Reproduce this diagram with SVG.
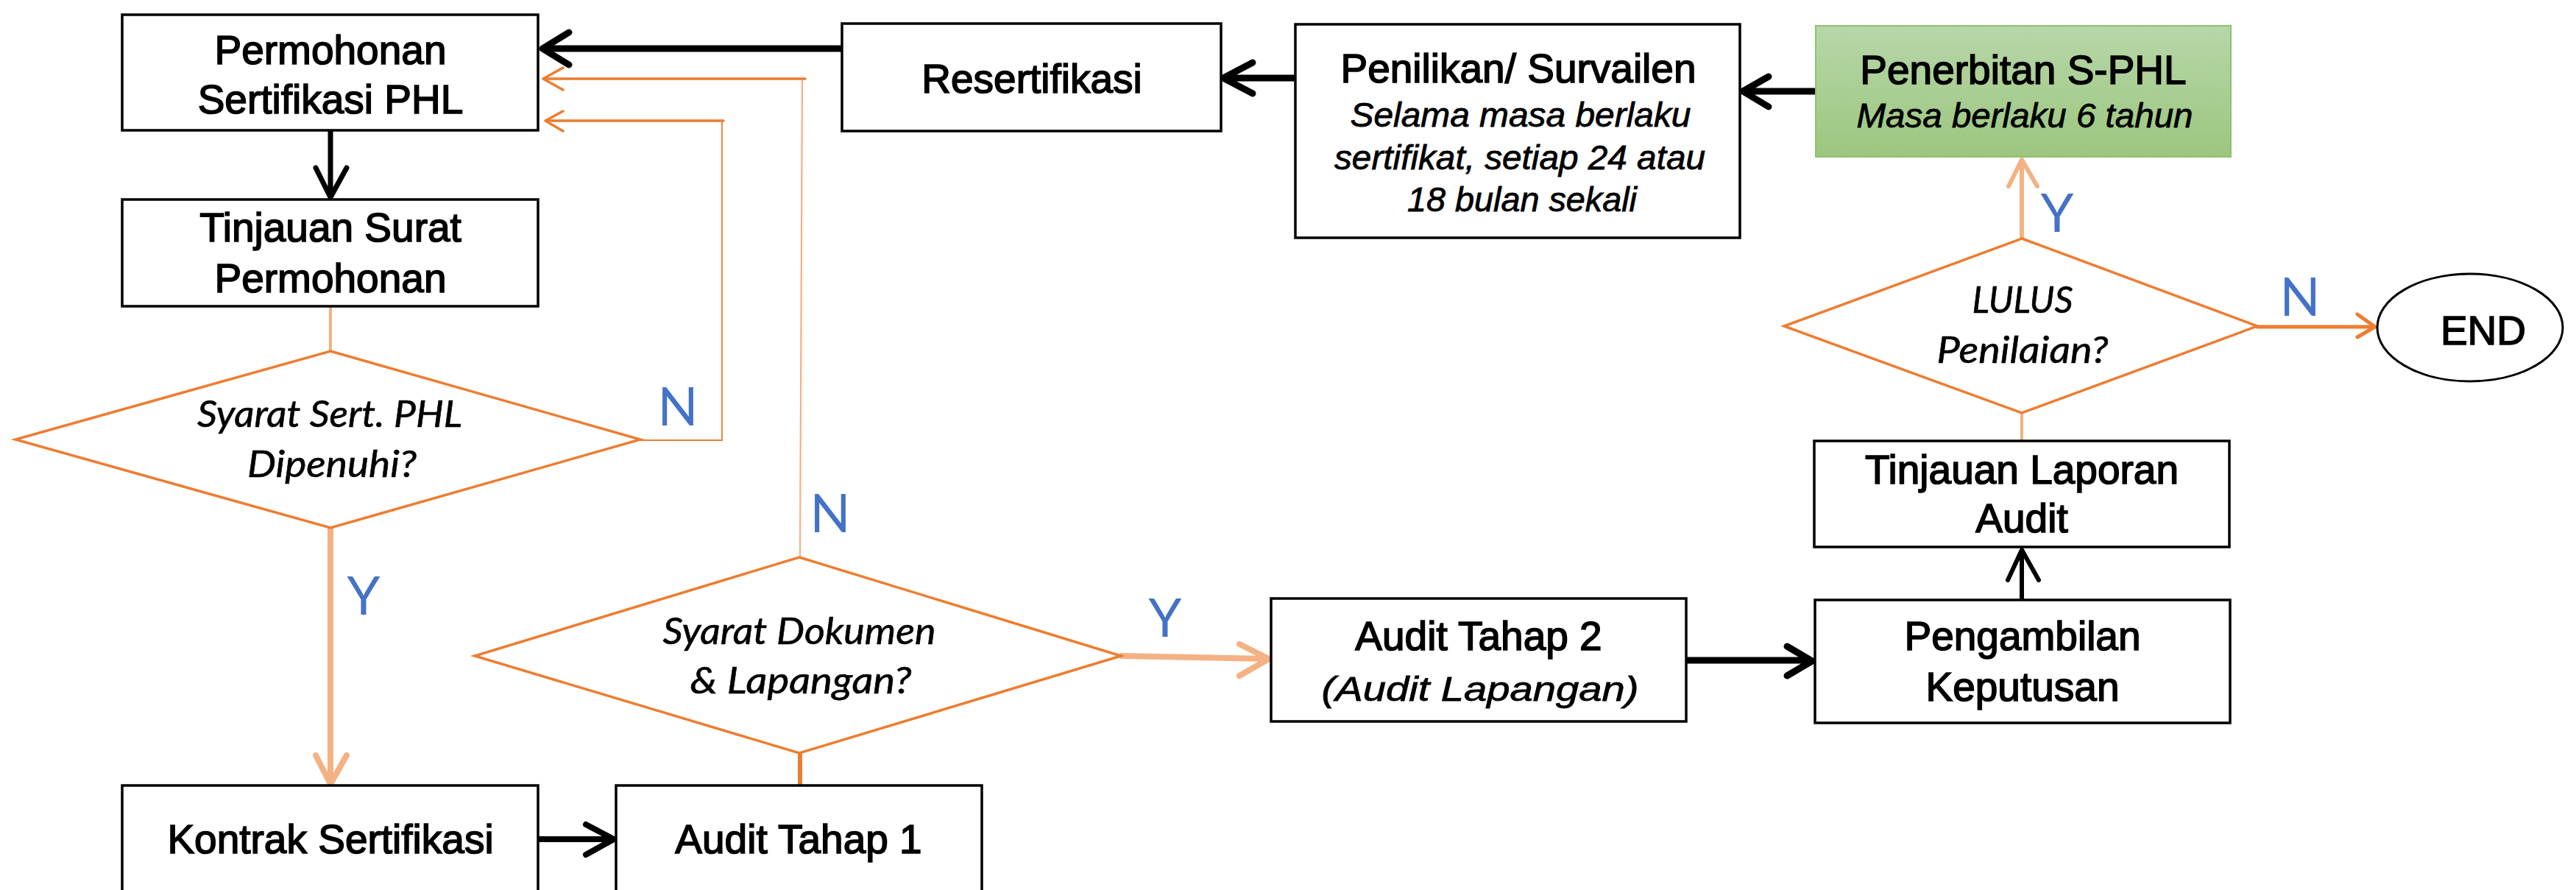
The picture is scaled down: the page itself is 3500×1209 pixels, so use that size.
<svg xmlns="http://www.w3.org/2000/svg" width="3500" height="1209" viewBox="0 0 3500 1209">
<defs>
<linearGradient id="green" x1="0" y1="0" x2="0" y2="1">
<stop offset="0" stop-color="#B7D7A9"/>
<stop offset="1" stop-color="#9CC67E"/>
</linearGradient>
<style>
.box{fill:#fff;stroke:#000;stroke-width:3.5}
.t{font-family:"Liberation Sans",Arial,sans-serif;font-size:55px;text-anchor:middle;fill:#000;stroke:#000;stroke-width:1.6}
.ti{font-family:"Liberation Sans",Arial,sans-serif;font-style:italic;font-size:47px;text-anchor:middle;fill:#000;stroke:#000;stroke-width:0.8}
.dia{fill:#fff;stroke:#ED7D31;stroke-width:3.5;stroke-linejoin:miter}
.dt{font-family:Lato,"Open Sans",sans-serif;font-style:italic;font-size:50px;text-anchor:middle;fill:#000;stroke:#000;stroke-width:0.6}
.yn{font-family:Lato,"Open Sans",sans-serif;font-size:72px;fill:#4472C4;text-anchor:middle}
.blk{fill:none;stroke:#000;stroke-linecap:round;stroke-linejoin:round}
.org{fill:none;stroke:#ED7D31;stroke-linecap:round;stroke-linejoin:round}
.lor{fill:none;stroke:#F4B183;stroke-linecap:round;stroke-linejoin:round}
</style>
</defs>
<rect width="3500" height="1209" fill="#fff"/>

<g id="connectors">
  <path class="blk" stroke-width="9" d="M1144,66 H740 M773,44 L737,66 L773,88"/>
  <path class="blk" stroke-width="9" d="M1760,106 H1664 M1702,85 L1662,106 L1702,127"/>
  <path class="blk" stroke-width="9" d="M2467,124 H2370 M2403,104 L2368,124 L2403,145"/>
  <path class="blk" stroke-width="7" d="M449,177 V266 M429,228 L449,268 L471,228"/>
  <path class="lor" stroke-width="4" d="M449,416 V477"/>
  <path class="lor" stroke-width="8" d="M449,717 V1063 M429,1026 L449,1065 L471,1026"/>
  <path class="org" stroke-width="2" d="M870,598 H981"/>
  <path class="org" stroke-width="1.8" d="M981,598 V164"/>
  <path class="org" stroke-width="3.5" d="M983,164 H743 M765,151 L741,164 L765,178"/>
  <path class="lor" stroke-width="2.2" d="M1087,757 L1090,107"/>
  <path class="org" stroke-width="3.5" d="M1094,107 H740 M765,92 L738,107 L765,122"/>
  <path class="org" stroke-width="6" stroke-linecap="butt" d="M1087,1023 V1067"/>
  <path class="blk" stroke-width="8" d="M731,1140 H832 M796,1120 L834,1140 L796,1161"/>
  <path class="lor" stroke-width="8" d="M1524,891 L1722,895 M1684,875 L1724,895 L1684,918"/>
  <path class="blk" stroke-width="9" d="M2291,897 H2460 M2428,878 L2462,898 L2428,918"/>
  <path class="blk" stroke-width="6" d="M2747,816 V750 M2728,788 L2747,747 L2770,788"/>
  <path class="lor" stroke-width="4" stroke-linecap="butt" d="M2747,599 V561"/>
  <path class="lor" stroke-width="6" d="M2747,324 V220 M2729,253 L2747,217 L2768,253"/>
  <path class="org" stroke-width="5" d="M3067,444 H3225 M3203,427 L3227,444 L3203,458"/>
</g>

<g id="permohonan">
  <rect class="box" x="166" y="20" width="565" height="157"/>
  <text class="t" x="449" y="87">Permohonan</text>
  <text class="t" x="449" y="154">Sertifikasi PHL</text>
</g>
<g id="tinjauan-surat">
  <rect class="box" x="166" y="271" width="565" height="145"/>
  <text class="t" x="449" y="328">Tinjauan Surat</text>
  <text class="t" x="449" y="397">Permohonan</text>
</g>
<g id="syarat-sert">
  <polygon class="dia" points="449,477 870,597 449,717 21,597"/>
  <text class="dt" x="448" y="580" textLength="360" lengthAdjust="spacingAndGlyphs">Syarat Sert. PHL</text>
  <text class="dt" x="451" y="648" textLength="230" lengthAdjust="spacingAndGlyphs">Dipenuhi?</text>
</g>
<g id="kontrak">
  <rect class="box" x="166" y="1067" width="565" height="160"/>
  <text class="t" x="449" y="1159">Kontrak Sertifikasi</text>
</g>
<g id="audit-1">
  <rect class="box" x="837" y="1067" width="497" height="160"/>
  <text class="t" x="1085" y="1159">Audit Tahap 1</text>
</g>
<g id="syarat-dokumen">
  <polygon class="dia" points="1086,757 1523,891 1086,1023 645,891"/>
  <text class="dt" x="1086" y="875" textLength="371" lengthAdjust="spacingAndGlyphs">Syarat Dokumen</text>
  <text class="dt" x="1088" y="942" textLength="301" lengthAdjust="spacingAndGlyphs">&amp; Lapangan?</text>
</g>
<g id="audit-2">
  <rect class="box" x="1727" y="813" width="564" height="167"/>
  <text class="t" x="2009" y="883">Audit Tahap 2</text>
  <text class="ti" x="2011" y="952" font-size="55" textLength="431" lengthAdjust="spacingAndGlyphs">(Audit Lapangan)</text>
</g>
<g id="pengambilan">
  <rect class="box" x="2466" y="815" width="564" height="167"/>
  <text class="t" x="2748" y="883">Pengambilan</text>
  <text class="t" x="2748" y="952">Keputusan</text>
</g>
<g id="tinjauan-laporan">
  <rect class="box" x="2465" y="599" width="564" height="144"/>
  <text class="t" x="2747" y="657">Tinjauan Laporan</text>
  <text class="t" x="2747" y="723">Audit</text>
</g>
<g id="lulus">
  <polygon class="dia" points="2747,324 3067,443 2747,561 2424,443"/>
  <text class="dt" x="2748" y="425" textLength="137" lengthAdjust="spacingAndGlyphs">LULUS</text>
  <text class="dt" x="2748" y="493" textLength="233" lengthAdjust="spacingAndGlyphs">Penilaian?</text>
</g>
<g id="end">
  <ellipse cx="3356" cy="445" rx="126" ry="73" fill="#fff" stroke="#000" stroke-width="3"/>
  <text class="t" x="3374" y="468" font-size="64">END</text>
</g>
<g id="penerbitan">
  <rect x="2467" y="35" width="564" height="178" fill="url(#green)" stroke="#8DC26F" stroke-width="2"/>
  <text class="t" x="2749" y="114">Penerbitan S-PHL</text>
  <text class="ti" x="2751" y="173" textLength="457" lengthAdjust="spacingAndGlyphs">Masa berlaku 6 tahun</text>
</g>
<g id="penilikan">
  <rect class="box" x="1760" y="33" width="604" height="290"/>
  <text class="t" x="2063" y="112">Penilikan/ Survailen</text>
  <text class="ti" x="2066" y="172" textLength="463" lengthAdjust="spacingAndGlyphs">Selama masa berlaku</text>
  <text class="ti" x="2065" y="230" textLength="504" lengthAdjust="spacingAndGlyphs">sertifikat, setiap 24 atau</text>
  <text class="ti" x="2068" y="287" textLength="312" lengthAdjust="spacingAndGlyphs">18 bulan sekali</text>
</g>
<g id="resertifikasi">
  <rect class="box" x="1144" y="32" width="515" height="146"/>
  <text class="t" x="1402" y="126">Resertifikasi</text>
</g>

<g id="labels">
  <text class="yn" x="921" y="578">N</text>
  <text class="yn" x="494" y="835">Y</text>
  <text class="yn" x="1128" y="723">N</text>
  <text class="yn" x="1583" y="865">Y</text>
  <text class="yn" x="2795" y="315">Y</text>
  <text class="yn" x="3125" y="429">N</text>
</g>
</svg>
